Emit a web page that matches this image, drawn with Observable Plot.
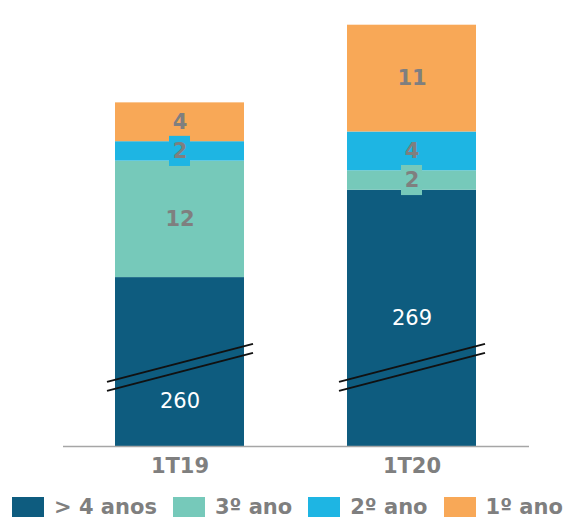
<!DOCTYPE html>
<html>
<head>
<meta charset="utf-8">
<script src="https://cdn.jsdelivr.net/npm/d3@7"></script>
<script src="https://cdn.jsdelivr.net/npm/@observablehq/plot@0.6"></script>
<style>
  html, body { margin: 0; padding: 0; background: #fff; }
  body { width: 566px; height: 520px; overflow: hidden; font-family: "DejaVu Sans", sans-serif; }
  #chart svg { display: block; }
  .xaxis text { font-weight: bold; fill: #7f7f7f; font-size: 21px; }
  #legend { display: flex; align-items: center; height: 40px; padding-left: 12px; box-sizing: border-box;
            padding-top: 13px; font-weight: bold; font-size: 21px; color: #7f7f7f; white-space: nowrap; }
  #legend .item { display: flex; align-items: center; margin-right: 16px; }
  #legend .sw { width: 32px; height: 20px; margin-right: 10px; }
</style>
</head>
<body>
<div id="chart"></div>
<div id="legend"></div>
<script>
// ---- data ----
const categories = ["1T19", "1T20"];
const series = ["> 4 anos", "3º ano", "2º ano", "1º ano"];
const gt4Anos = [260, 269];
const ano3 = [12, 2];
const ano2 = [2, 4];
const ano1 = [4, 11];
const colors = ["#0e5c7f", "#76c9ba", "#1eb5e3", "#f8a857"];
const breakOffset = 242.6; // portion of the "> 4 anos" bars hidden by the axis break
const breakY = 8.1;        // where the break marks sit (display units)

const valuesBySeries = [gt4Anos, ano3, ano2, ano1];
const rows = [];
categories.forEach((cat, ci) => {
  let acc = 0;
  series.forEach((s, si) => {
    const value = valuesBySeries[si][ci];
    const disp = si === 0 ? value - breakOffset : value;
    const y1 = acc, y2 = acc + disp;
    acc = y2;
    rows.push({cat, series: s, si, value, y1, y2, mid: (y1 + y2) / 2});
  });
});

const darkRows = rows.filter(d => d.si === 0);
const lightRows = rows.filter(d => d.si !== 0);
const smallRows = lightRows.filter(d => d.value <= 2);

function darkLabelY(d) {
  // keep the label clear of the break marks
  return Math.abs(d.mid - breakY) < 4 ? breakY - 3.45 : d.mid;
}

const breakMarks = (index, scales) => {
  const g = d3.create("svg:g").attr("aria-label", "axis break");
  const bw = scales.x.bandwidth();
  const yc = scales.y(breakY);
  for (const c of categories) {
    const xa = scales.x(c) - 8, xb = scales.x(c) + bw + 9;
    for (const o of [-4.5, 4.5]) {
      g.append("line")
        .attr("x1", xa).attr("y1", yc + 19 + o)
        .attr("x2", xb).attr("y2", yc - 19 + o)
        .attr("stroke", "#111").attr("stroke-width", 2);
    }
  }
  return g.node();
};

const plot = Plot.plot({
  width: 566,
  height: 480,
  marginLeft: 63,
  marginRight: 37,
  marginTop: 15,
  marginBottom: 34,
  style: {fontFamily: "DejaVu Sans, sans-serif", background: "#fff"},
  x: {domain: categories, paddingInner: 0.443, paddingOuter: 0.224, axis: null},
  y: {domain: [0, 44.4], axis: null},
  color: {domain: series, range: colors},
  marks: [
    Plot.barY(rows, {x: "cat", y1: "y1", y2: "y2", fill: "series"}),
    breakMarks,
    Plot.barY(smallRows, {x: "cat", y1: d => d.mid - 1.55, y2: d => d.mid + 1.55, fill: "series",
                          insetLeft: 54, insetRight: 54}),
    Plot.text(darkRows, {x: "cat", y: darkLabelY, text: d => String(d.value), fill: "#ffffff",
                         fontSize: 21, fontFamily: "DejaVu Sans"}),
    Plot.text(lightRows, {x: "cat", y: "mid", text: d => String(d.value), fill: "#7f7f7f",
                          fontSize: 21, fontWeight: "bold", fontFamily: "DejaVu Sans"}),
    Plot.ruleY([0], {stroke: "#a6a6a6", strokeWidth: 1.5}),
    Plot.axisX({tickSize: 0, tickPadding: 12, fontSize: 21, fontWeight: "bold", fill: "#7f7f7f",
                className: "xaxis", label: null})
  ]
});
document.getElementById("chart").appendChild(plot);

const legend = d3.select("#legend");
series.forEach((s, i) => {
  const it = legend.append("div").attr("class", "item");
  it.append("div").attr("class", "sw").style("background", colors[i]);
  it.append("span").text(s);
});
</script>
</body>
</html>
